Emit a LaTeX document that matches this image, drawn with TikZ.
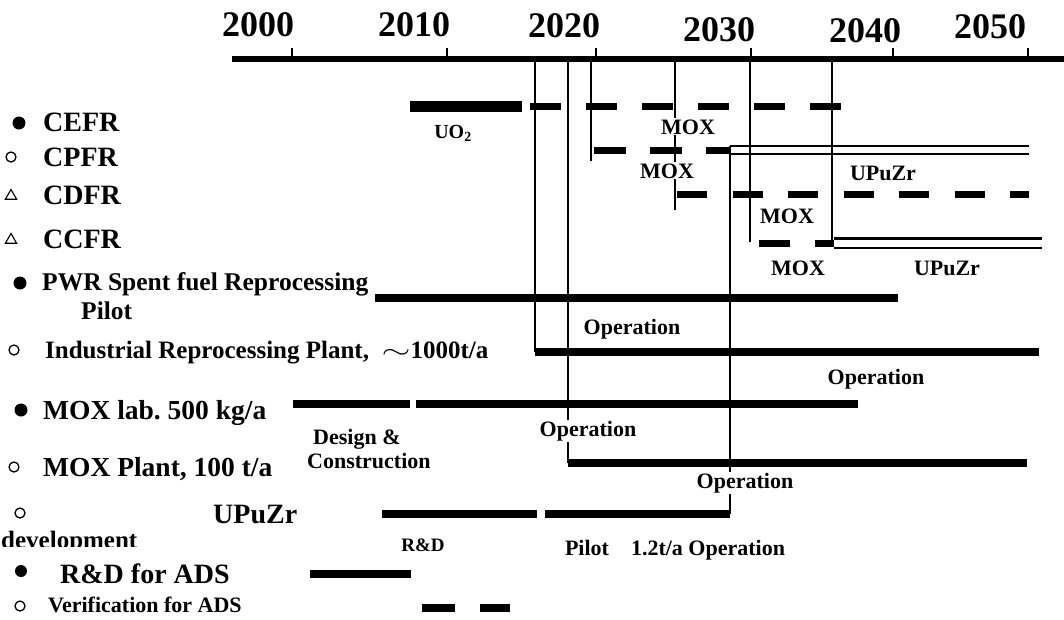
\documentclass[tikz,border=0pt]{standalone}
\usepackage{fontspec}
\setmainfont{Liberation Serif}
\usetikzlibrary{shapes.geometric}

\begin{document}
\begin{tikzpicture}[x=1pt, y=-1pt,
  yearlab/.style={inner sep=0pt, font=\fontsize{36}{40}\selectfont\bfseries},
  rowlab/.style={anchor=base west, inner sep=0pt, font=\fontsize{28}{30}\selectfont\bfseries},
  barlab/.style={anchor=base, fill=white, inner sep=1pt, font=\fontsize{22}{24}\selectfont\bfseries},
  bar/.style={line width=8pt},
  dashbar/.style={line width=7pt, dash pattern=on 31pt off 25pt},
  twin/.style={line width=2.5pt, double distance=5.5pt},
  guide/.style={line width=1.2pt},
  fulldot/.style={circle, fill, inner sep=0pt, minimum size=13pt},
  opendot/.style={circle, draw, line width=1.3pt, inner sep=0pt, minimum size=10pt},
  opentri/.style={regular polygon, regular polygon sides=3, draw, line width=1.1pt, inner sep=0pt, minimum size=13pt}]
\useasboundingbox (0,0) rectangle (1064,619);

\draw[line width=6pt] (232,59) -- (1064,59);
\foreach \x in {292,447,596,751,893,1028}
  \draw[guide] (\x,48) -- (\x,59);
\foreach \yr/\x/\y in {2000/258/25,2010/414/25,2020/564/26,2030/719/30,2040/865/31,2050/990/27}
  \node[yearlab] (yr\yr) at (\x,\y) {\yr};

\draw[bar, line width=11pt] (410,106) -- (522,106);
\draw[dashbar] (530,106) -- (841,106);
\draw[dashbar, dash pattern=on 32pt off 24pt] (594,150) -- (730,150);
\draw[twin] (730,150) -- (1029,150);
\draw[dashbar, dash pattern=on 30pt off 25.5pt] (677,194) -- (1029,194);
\draw[dashbar] (759,243) -- (834,243);
\draw[twin, double distance=7pt] (834,243) -- (1042,243);
\draw[bar] (375,298) -- (898,298);
\draw[bar] (535,352) -- (1039,352);
\draw[bar] (293,404) -- (410,404);
\draw[bar] (416,404) -- (858,404);
\draw[bar] (568,463) -- (1027,463);
\draw[bar] (382,514) -- (537,514);
\draw[bar] (545,514) -- (730,514);
\draw[bar] (310,574) -- (411,574);
\draw[bar, dash pattern=on 33pt off 25pt] (422,608) -- (510,608);

\foreach \x/\ya/\yb in {535/59/352,568/59/463,591/59/161,675/59/210,750/59/242,832/59/243,730/146/514}
  \draw[guide] (\x,\ya) -- (\x,\yb);

\node[fulldot] (b1) at (19,123) {};
\node[rowlab] (cefr) at (43,131) {CEFR};
\node[opendot] (b2) at (11,157) {};
\node[rowlab] (cpfr) at (43,166) {CPFR};
\node[opentri] (b3) at (11,196) {};
\node[rowlab] (cdfr) at (43,204) {CDFR};
\node[opentri] (b4) at (11,240) {};
\node[rowlab] (ccfr) at (43,248) {CCFR};
\node[fulldot] (b5) at (20,283) {};
\node[rowlab, font=\fontsize{25.5}{28}\selectfont\bfseries] (pwr) at (42,290) {PWR Spent fuel Reprocessing};
\node[rowlab, font=\fontsize{25.5}{28}\selectfont\bfseries] (pwrb) at (81,319) {Pilot};
\node[opendot] (b6) at (14,350) {};
\node[rowlab, font=\fontsize{25}{28}\selectfont\bfseries] (indus) at (45,358) {Industrial Reprocessing Plant,\ \ \scalebox{1.5}[1]{$\sim$}1000t/a};
\node[fulldot] (b7) at (21,410) {};
\node[rowlab, font=\fontsize{27.5}{30}\selectfont\bfseries] (moxlab) at (43,419) {MOX lab.\ 500 kg/a};
\node[opendot] (b8) at (14,467) {};
\node[rowlab, font=\fontsize{27.5}{30}\selectfont\bfseries] (moxplant) at (43,476) {MOX Plant, 100 t/a};
\node[opendot] (b9) at (20,513) {};
\node[rowlab] (upuzr) at (213,523) {UPuZr};
\begin{scope}
  \clip (0,520) rectangle (300,546.5);
  \node[rowlab, font=\fontsize{25}{28}\selectfont\bfseries] (devel) at (1,548) {development};
\end{scope}
\node[fulldot, minimum size=12pt] (b10) at (21,571) {};
\node[rowlab] (rdads) at (60,583) {R\&D for ADS};
\node[opendot] (b11) at (20,606) {};
\node[rowlab, font=\fontsize{22}{24}\selectfont\bfseries] (verads) at (48,612) {Verification for ADS};

\node[barlab, font=\fontsize{20}{22}\selectfont\bfseries] (uo2) at (453,138) {UO\textsubscript{2}};
\node[barlab] (mox1) at (688,134) {MOX};
\node[barlab] (mox2) at (667,178) {MOX};
\node[barlab] (upz1) at (883,180) {UPuZr};
\node[barlab] (mox3) at (787,223) {MOX};
\node[barlab] (mox4) at (798,275) {MOX};
\node[barlab] (upz2) at (947,275) {UPuZr};
\node[barlab] (op1) at (632,334) {Operation};
\node[barlab] (op2) at (876,384) {Operation};
\node[barlab] (op3) at (588,436) {Operation};
\node[barlab, anchor=base west] (dsgn) at (312,444) {Design \&};
\node[barlab, anchor=base west] (cnst) at (306,468) {Construction};
\node[barlab] (op4) at (745,488) {Operation};
\node[barlab, font=\fontsize{19}{21}\selectfont\bfseries] (rd) at (423,551) {R\&D};
\node[barlab] (pilot) at (675,555) {Pilot\quad 1.2t/a Operation};
\end{tikzpicture}
\end{document}
